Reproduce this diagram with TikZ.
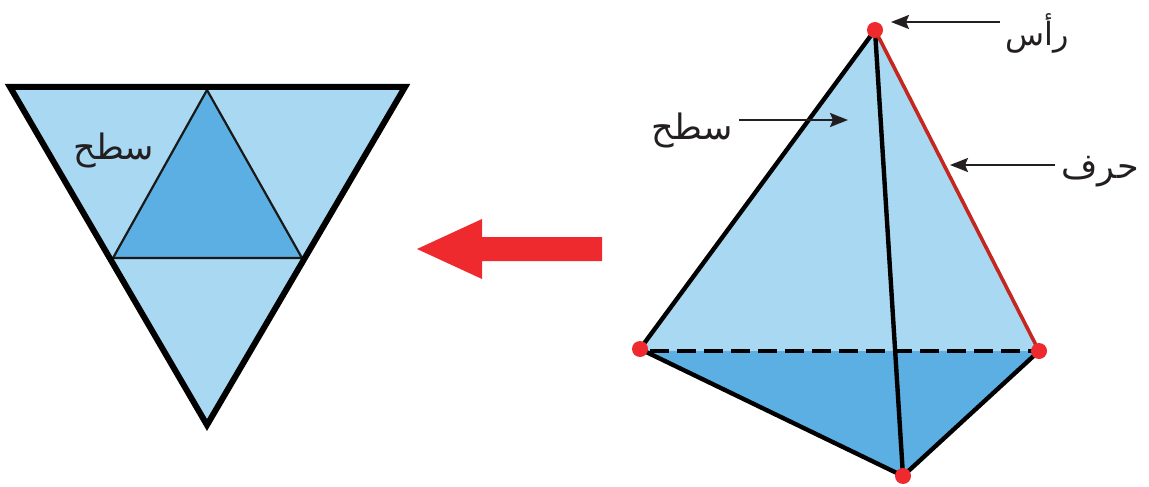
\documentclass[tikz,border=0pt]{standalone}
\usepackage{fontspec}
\usetikzlibrary{arrows.meta}
\newfontfamily\arabicfont[Script=Arabic]{DejaVu Sans}
\TeXXeTstate=1
\definecolor{facelight}{HTML}{A9D9F2}
\definecolor{facedark}{HTML}{5CAFE2}
\definecolor{dotred}{HTML}{EE2A2E}
\definecolor{edgered}{HTML}{C4271F}
\definecolor{inkdark}{HTML}{231F20}
\tikzset{
  x=1pt,y=-1pt,
  vertexdot/.style={circle,fill=dotred,draw=none,minimum size=16pt,inner sep=0pt},
  edgeline/.style={line width=4.4pt,black,line join=round},
  thinedge/.style={line width=2.2pt,black!90,line join=round},
  netedge/.style={line width=6pt,black,line join=miter},
  pointer/.style={line width=2pt,inkdark,-{Stealth[length=18pt,width=14pt,inset=3pt]}},
  arlabel/.style={inkdark,inner sep=0pt,font=\arabicfont\fontsize{35}{40}\selectfont},
}
\begin{document}
\begin{tikzpicture}
\useasboundingbox (0,0) rectangle (1149,487);
% net
\coordinate (nA) at (10,87);
\coordinate (nB) at (405,87);
\coordinate (nC) at (207,425);
\coordinate (nI) at (207,90);
\coordinate (nJ) at (113,258);
\coordinate (nK) at (302,258);
\fill[facelight] (nA) -- (nB) -- (nC) -- cycle;
\fill[facedark] (nI) -- (nK) -- (nJ) -- cycle;
\draw[thinedge] (nI) -- (nK) -- (nJ) -- cycle;
\draw[netedge] (nA) -- (nB) -- (nC) -- cycle;
\node[arlabel] (netlabel) at (114,150) {\beginR سطح\endR};
% red arrow
\fill[dotred] (417,249) -- (482,219) -- (482,237) -- (602,237) -- (602,261) -- (482,261) -- (482,279) -- cycle;
% tetrahedron
\coordinate (tA) at (875,30);
\coordinate (tL) at (640,349);
\coordinate (tR) at (1039,351);
\coordinate (tB) at (903,476);
\coordinate (dL) at (650,351);
\fill[facelight] (tA) -- (tR) -- (dL) -- (tL) -- cycle;
\fill[facedark] (tL) -- (dL) -- (tR) -- (tB) -- cycle;
\draw[edgeline] (tL) -- (tA);
\draw[edgeline] (tA) -- (tB);
\draw[edgeline] (tL) -- (tB) -- (tR);
\draw[line width=4.4pt,black,dash pattern=on 19pt off 8pt] (dL) -- (tR);
\draw[line width=3.6pt,edgered] (tA) -- (tR);
\node[vertexdot] (vA) at (tA) {};
\node[vertexdot] (vL) at (tL) {};
\node[vertexdot] (vR) at (tR) {};
\node[vertexdot] (vB) at (tB) {};
% labels
\node[arlabel,font=\arabicfont\fontsize{32}{40}\selectfont] (lhead) at (1037,33) {\beginR رأس\endR};
\node[arlabel] (lface) at (692,130) {\beginR سطح\endR};
\node[arlabel] (ledge) at (1100,172) {\beginR حرف\endR};
\coordinate (pA) at (1000,22);
\coordinate (pAe) at (891,22);
\coordinate (pF) at (739,120);
\coordinate (pFe) at (848,120);
\coordinate (pE) at (1055,165);
\coordinate (pEe) at (950,165);
\draw[pointer] (pA) -- (pAe);
\draw[pointer] (pF) -- (pFe);
\draw[pointer] (pE) -- (pEe);
\end{tikzpicture}
\end{document}
